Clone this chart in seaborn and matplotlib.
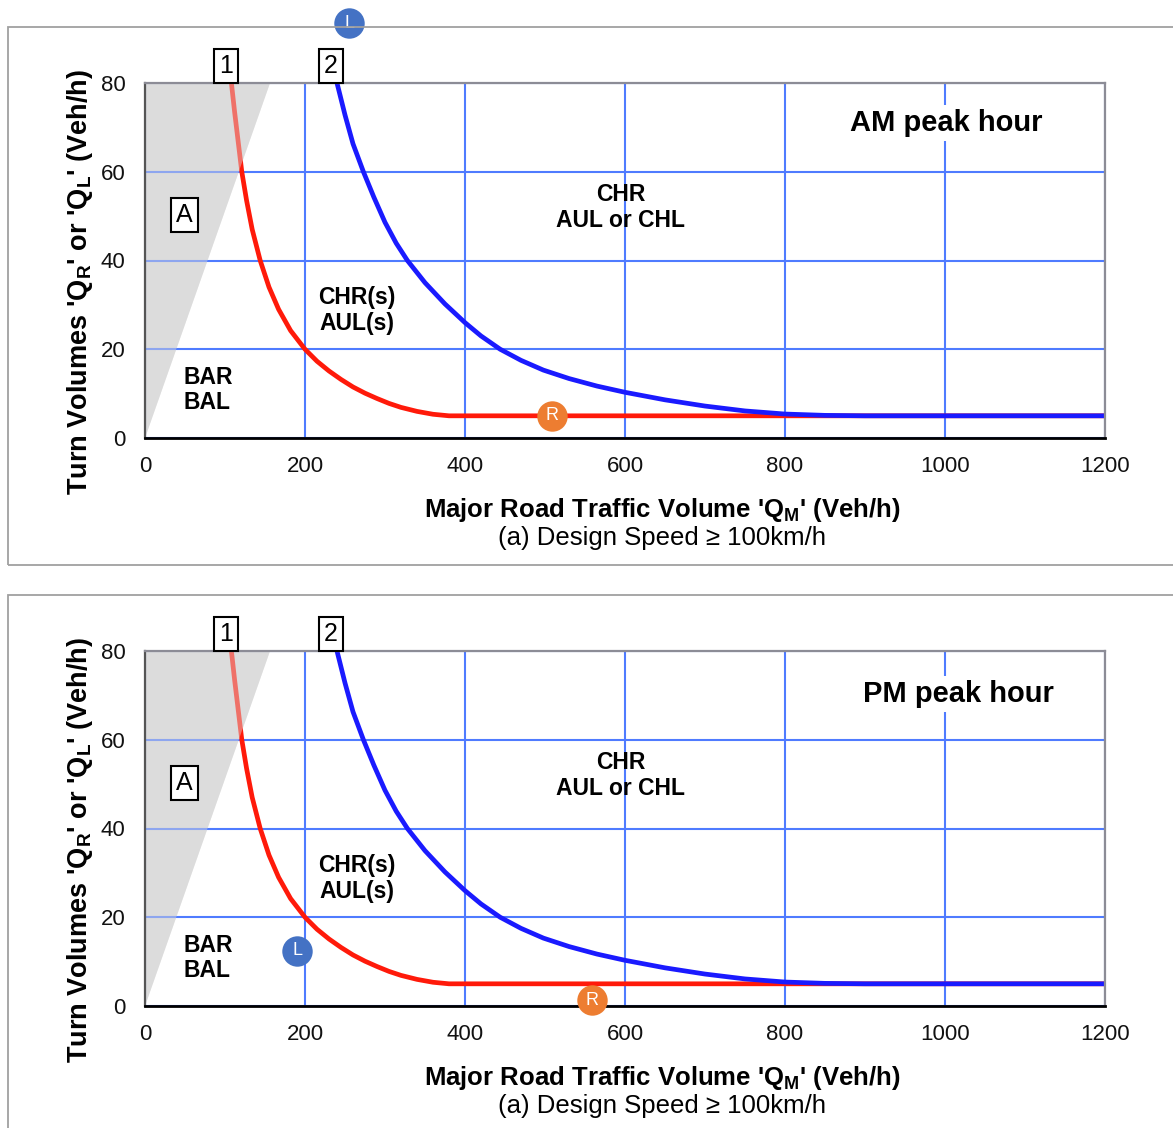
import numpy as np
import pandas as pd
import matplotlib
matplotlib.use('Agg')
import matplotlib.pyplot as plt
import seaborn as sns
from matplotlib.patches import Rectangle

sns.set_style('white')
plt.rcParams['font.family'] = ['Liberation Sans', 'DejaVu Sans']
plt.rcParams['mathtext.fontset'] = 'custom'
plt.rcParams['mathtext.rm'] = 'Liberation Sans'
plt.rcParams['mathtext.bf'] = 'Liberation Sans:bold'
plt.rcParams['mathtext.it'] = 'Liberation Sans:italic'
plt.rcParams['text.color'] = 'black'
plt.rcParams['axes.labelcolor'] = 'black'

# curve 1 (red)
red_x = [108, 112, 116, 121, 127, 134, 144, 155, 167, 182, 200, 215, 230, 245,
         260, 275, 290, 305, 320, 340, 360, 380, 1200]
red_y = [80, 73.5, 67.5, 60, 53.5, 47, 40, 34, 29, 24.2, 20, 17.3, 15.1, 13.2,
         11.5, 10.1, 8.9, 7.8, 6.9, 6.0, 5.35, 5.0, 5.0]

# curve 2 (blue)
blue_x = [240, 250, 260, 273, 286, 300, 314, 328, 350, 375, 400, 420, 444, 470,
          498, 530, 565, 600, 650, 700, 750, 800, 850, 900, 1200]
blue_y = [80, 72.8, 66.3, 60, 54.3, 48.6, 43.9, 40, 35, 30.2, 26, 23, 20, 17.5,
          15.3, 13.4, 11.7, 10.3, 8.6, 7.2, 6.1, 5.4, 5.1, 5.0, 5.0]

# grey area A
shade_x = [0, 0, 156, 0]
shade_y = [0, 80, 80, 0]

x_ticks = [0, 200, 400, 600, 800, 1000, 1200]
y_ticks = [0, 20, 40, 60, 80]

panel_titles = ['AM peak hour', 'PM peak hour']
# L / R points for each panel
left_pts = [(255, 93.5), (190, 12.4)]
right_pts = [(509, 5.0), (559, 1.35)]

W, H = 1173, 1128
fig = plt.figure(figsize=(W / 100, H / 100), dpi=100)

# panel frames
for top, bot in [(27, 565), (595, 1140)]:
    fig.patches.append(Rectangle((8 / W, 1 - bot / H), (1190 - 8) / W, (bot - top) / H,
                                 transform=fig.transFigure, fill=False,
                                 ec='#a0a0a0', lw=1.3))

axes = [fig.add_axes([145 / W, 1 - 438 / H, 960 / W, 355 / H]),
        fig.add_axes([145 / W, 1 - 1006 / H, 960 / W, 355 / H])]

title_pos = [(1002, 71), (1017, 70.3)]

for i, ax in enumerate(axes):
    ax.set_xlim(0, 1200)
    ax.set_ylim(0, 80)
    ax.set_xticks(x_ticks)
    ax.set_yticks(y_ticks)
    ax.set_axisbelow(True)
    ax.grid(True, color='#4f7bff', lw=1.5)

    # grey zone under and over the curves
    ax.fill(shade_x, shade_y, color='#dcdcdc', lw=0, zorder=0.2)
    sns.lineplot(x=red_x, y=red_y, sort=False, color='#ff1a0a', lw=3.4, ax=ax, zorder=2)
    sns.lineplot(x=blue_x, y=blue_y, sort=False, color='#1a1aff', lw=3.4, ax=ax, zorder=2)
    ax.fill(shade_x, shade_y, color='#dcdcdc', alpha=0.45, lw=0, zorder=2.2)

    for s in ['top', 'right']:
        ax.spines[s].set_color('#8c8c96')
        ax.spines[s].set_linewidth(1.6)
    ax.spines['left'].set_color('#555555')
    ax.spines['left'].set_linewidth(1.6)
    ax.spines['bottom'].set_color('black')
    ax.spines['bottom'].set_linewidth(2)

    ax.tick_params(axis='both', direction='out', length=6, width=1.5,
                   labelsize=16, pad=7, labelcolor='#111111')
    ax.tick_params(axis='y', color='#555555', pad=8)
    ax.tick_params(axis='x', color='black')

    ax.set_xlabel("Major Road Traffic Volume 'Q$_\\mathbf{M}$' (Veh/h)",
                  fontsize=18.5, fontweight='bold')
    ax.xaxis.set_label_coords(0.539, -0.163)
    ax.set_ylabel("Turn Volumes 'Q$_\\mathbf{R}$' or 'Q$_\\mathbf{L}$' (Veh/h)",
                  fontsize=19.5, fontweight='bold')
    ax.yaxis.set_label_coords(-0.052, 0.44)
    ax.text(0.539, -0.281, '(a) Design Speed \u2265 100km/h', transform=ax.transAxes,
            ha='center', va='center', fontsize=18.5)

    # curve numbers and zone labels
    box = dict(boxstyle='square,pad=0.2', fc='white', ec='black', lw=1.5)
    ax.text(101, 83.8, '1', ha='center', va='center', fontsize=18, bbox=box, clip_on=False, zorder=5)
    ax.text(232, 83.8, '2', ha='center', va='center', fontsize=18, bbox=box, clip_on=False, zorder=5)
    ax.text(49, 50.3, 'A', ha='center', va='center', fontsize=18, bbox=box, zorder=5)

    ax.text(48.5, 10.8, 'BAR\nBAL', ha='left', va='center', fontsize=16.5,
            fontweight='bold', linespacing=1.15, zorder=5)
    ax.text(265, 28.8, 'CHR(s)\nAUL(s)', ha='center', va='center', fontsize=16.5,
            fontweight='bold', linespacing=1.15, zorder=5)
    ax.text(595, 52, 'CHR\nAUL or CHL', ha='center', va='center', fontsize=16.5,
            fontweight='bold', linespacing=1.15, zorder=5)

    tx, ty = title_pos[i]
    ax.text(tx, ty, panel_titles[i], ha='center', va='center', fontsize=21,
            fontweight='bold', zorder=5, bbox=dict(fc='white', ec='none', pad=3))

    # L and R markers
    for (px, py), lab, col in [(left_pts[i], 'L', '#4472c4'), (right_pts[i], 'R', '#ed7d31')]:
        ax.scatter([px], [py], s=480, color=col, lw=0, zorder=6, clip_on=False)
        ax.text(px, py, lab, ha='center', va='center', color='white', fontsize=13,
                zorder=7, clip_on=False)

fig.savefig('out.png', dpi=100)
